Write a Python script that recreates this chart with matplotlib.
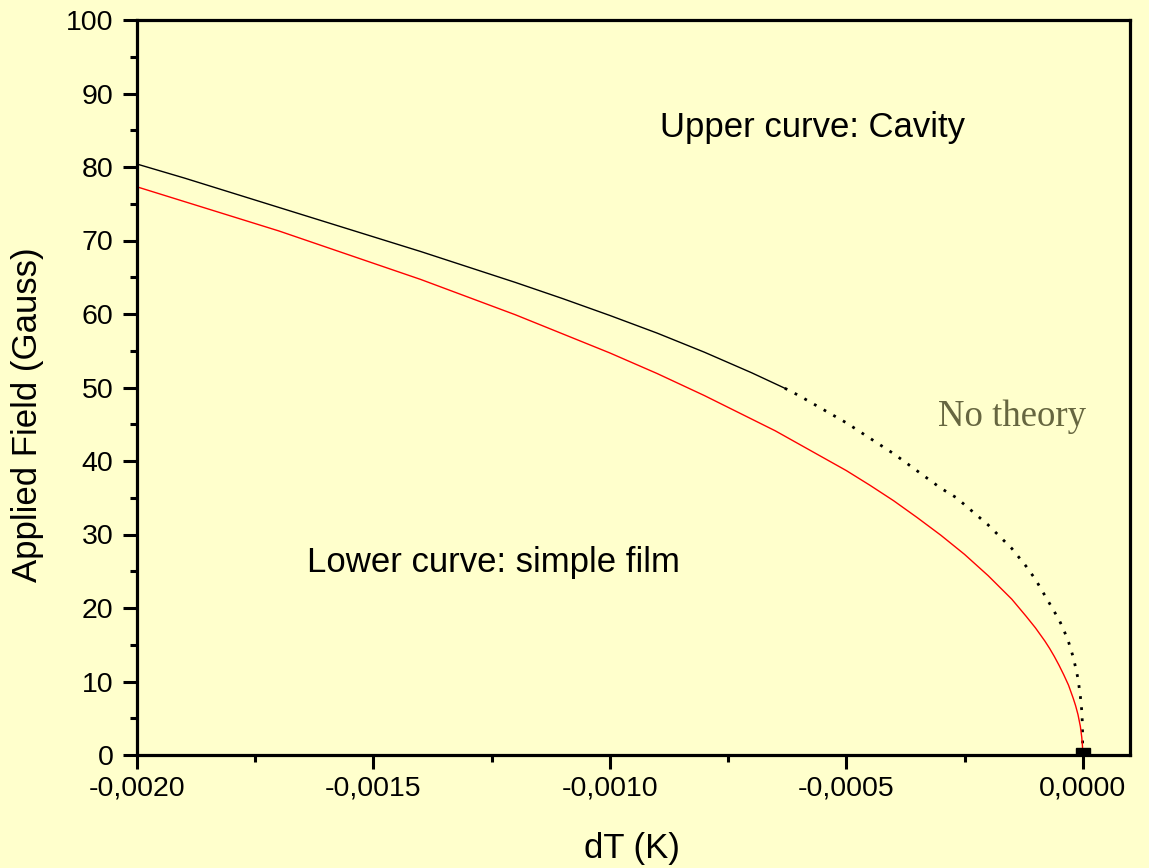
import matplotlib
matplotlib.use("Agg")
import matplotlib.pyplot as plt
from matplotlib.ticker import MultipleLocator, FuncFormatter

# dT (K) and applied field (Gauss)
dT_film = [-0.0020, -0.0019, -0.0018, -0.0017, -0.0016, -0.0015, -0.0014, -0.0013,
           -0.0012, -0.0011, -0.0010, -0.0009, -0.0008, -0.00075, -0.0007, -0.00065,
           -0.0006, -0.00055, -0.0005, -0.00045, -0.0004, -0.00035, -0.0003, -0.00025,
           -0.0002, -0.00015, -0.00012, -0.0001, -0.00009, -0.00008, -0.00007, -0.00006,
           -0.00005, -0.00004, -0.00003, -0.00002, -0.000015, -0.00001, -0.000005,
           -0.000002, -0.0000005, 0.0]
H_film = [77.3, 75.3, 73.3, 71.3, 69.1, 66.9, 64.7, 62.3,
          59.9, 57.3, 54.7, 51.9, 48.9, 47.3, 45.7, 44.1,
          42.3, 40.5, 38.7, 36.7, 34.6, 32.3, 29.9, 27.3,
          24.4, 21.2, 18.9, 17.3, 16.4, 15.5, 14.5, 13.4,
          12.2, 10.9, 9.5, 7.7, 6.7, 5.5, 3.9,
          2.4, 1.2, 0.0]

# cavity: solid part (theory)
dT_cav = [-0.0020, -0.0019, -0.0018, -0.0017, -0.0016, -0.0015, -0.0014, -0.0013,
          -0.0012, -0.0011, -0.0010, -0.0009, -0.0008, -0.0007, -0.00063]
H_cav = [80.4, 78.5, 76.5, 74.5, 72.5, 70.5, 68.5, 66.4,
         64.3, 62.1, 59.8, 57.4, 54.8, 52.0, 49.9]

# cavity: dotted part (no theory)
dT_cav_dot = [-0.00063, -0.0006, -0.0005, -0.0004, -0.0003, -0.000267, -0.0002, -0.00015,
              -0.00012, -0.0001, -0.00008, -0.00007, -0.00005, -0.00004, -0.00003,
              -0.00002, -0.000015, -0.00001, -0.000005, -0.000002, -0.0000005, 0.0]
H_cav_dot = [49.9, 48.9, 45.2, 41.0, 36.3, 35.0, 31.3, 28.1,
             25.7, 23.9, 21.7, 20.6, 18.4, 17.0, 15.4,
             13.3, 11.9, 10.4, 8.0, 6.0, 4.0, 0.0]

point_dT = [0.0]
point_H = [0.0]

bg = "#FFFFCC"
plt.rcParams["font.family"] = ["Liberation Sans", "DejaVu Sans"]

fig = plt.figure(figsize=(11.49, 8.68), dpi=100, facecolor=bg)
ax = fig.add_axes([137 / 1149, 1 - 755 / 868, (1130 - 137) / 1149, (755 - 20) / 868])
ax.set_facecolor(bg)

ax.plot(dT_cav, H_cav, color="black", lw=1.0)
ax.plot(dT_cav_dot, H_cav_dot, color="black", lw=2.0, linestyle=(0, (1, 3)))
ax.plot(dT_film, H_film, color="red", lw=1.0)
ax.plot(point_dT, point_H, "s", color="black", markersize=10.5, zorder=3)

ax.set_xlim(-0.002, 0.0001)
ax.set_ylim(0, 100)

ax.xaxis.set_major_locator(MultipleLocator(0.0005))
ax.xaxis.set_minor_locator(MultipleLocator(0.00025))
ax.yaxis.set_major_locator(MultipleLocator(10))
ax.yaxis.set_minor_locator(MultipleLocator(5))
ax.xaxis.set_major_formatter(FuncFormatter(lambda v, p: ("%.4f" % (round(v, 6) + 0.0)).replace(".", ",")))

for s in ax.spines.values():
    s.set_linewidth(2.3)
    s.set_zorder(4)
ax.tick_params(which="both", direction="out", width=2.2, top=False, right=False)
ax.tick_params(which="major", length=10, labelsize=20.5)
ax.tick_params(axis="x", which="major", pad=5)
ax.tick_params(axis="y", which="major", pad=7)
ax.tick_params(which="minor", length=5)

fig.text(632 / 1149, 1 - 858 / 868, "dT (K)", fontsize=25, ha="center", va="baseline")
fig.text(28 / 1149, 1 - 415 / 868, "Applied Field (Gauss)", fontsize=25,
         rotation=90, ha="center", va="center")

ax.text(-0.000894, 84.1, "Upper curve: Cavity", fontsize=25, ha="left", va="baseline")
ax.text(-0.00164, 24.9, "Lower curve: simple film", fontsize=25, ha="left", va="baseline")
ax.text(-0.000307, 44.7, "No theory", fontsize=26.5, ha="left", va="baseline",
        family=["Liberation Serif", "DejaVu Serif"], color="#666640")

fig.savefig("out.png", dpi=100, facecolor=bg)
